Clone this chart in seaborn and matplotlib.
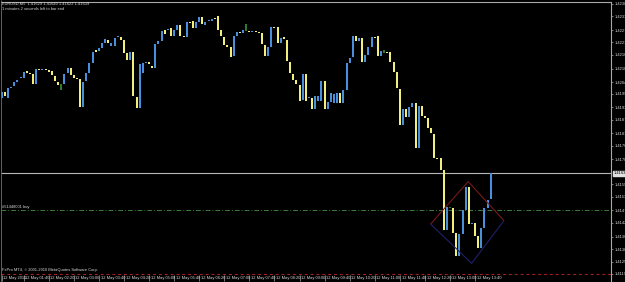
import matplotlib
matplotlib.use("Agg")
import matplotlib.pyplot as plt
import matplotlib.transforms as mtransforms
from matplotlib.lines import Line2D
import pandas as pd
import seaborn as sns

# ---------------- data (EURUSD M5, 12 May 2011) ----------------
opens = [1.41970, 1.41997, 1.41970, 1.42014, 1.42023, 1.42041, 1.42059, 1.42059, 1.42089, 1.42081,
         1.42076, 1.42032, 1.42098, 1.42094, 1.42098, 1.42094, 1.42089, 1.42067, 1.42041, 1.42019,
         1.42032, 1.42081, 1.42103, 1.42072, 1.42059, 1.42054, 1.41931, 1.42045, 1.42081, 1.42125,
         1.42182, 1.42177, 1.42191, 1.42213, 1.42226, 1.42200, 1.42200, 1.42239, 1.42239, 1.42226,
         1.42169, 1.42138, 1.42173, 1.41975, 1.41926, 1.42081, 1.42125, 1.42129, 1.42111, 1.42103,
         1.42208, 1.42222, 1.42270, 1.42270, 1.42279, 1.42244, 1.42270, 1.42292, 1.42244, 1.42239,
         1.42305, 1.42310, 1.42279, 1.42305, 1.42327, 1.42292, 1.42310, 1.42310, 1.42323, 1.42332,
         1.42270, 1.42239, 1.42204, 1.42195, 1.42155, 1.42244, 1.42261, 1.42257, 1.42270, 1.42266,
         1.42261, 1.42266, 1.42261, 1.42257, 1.42204, 1.42155, 1.42195, 1.42283, 1.42283, 1.42213,
         1.42239, 1.42226, 1.42129, 1.42076, 1.42050, 1.42028, 1.41962, 1.42076, 1.41970, 1.41970,
         1.41922, 1.41957, 1.41957, 1.42045, 1.41922, 1.41953, 1.41948, 1.41948, 1.41992, 1.41948,
         1.42006, 1.42125, 1.42151, 1.42244, 1.42222, 1.42235, 1.42129, 1.42160, 1.42195, 1.42239,
         1.42244, 1.42155, 1.42173, 1.42173, 1.42173, 1.42129, 1.42085, 1.42010, 1.41851, 1.41922,
         1.41887, 1.41931, 1.41948, 1.41750, 1.41935, 1.41891, 1.41882, 1.41838, 1.41812, 1.41706,
         1.41706, 1.41653, 1.41389, 1.41488, 1.41486, 1.41376, 1.41274, 1.41371, 1.41477, 1.41578,
         1.41415, 1.41420, 1.41362, 1.41310, 1.41398, 1.41486, 1.41525]
closes = [1.41997, 1.41979, 1.42014, 1.42019, 1.42041, 1.42050, 1.42063, 1.42085, 1.42081, 1.42076,
          1.42032, 1.42098, 1.42094, 1.42098, 1.42094, 1.42085, 1.42072, 1.42045, 1.42028, 1.42019,
          1.42076, 1.42103, 1.42072, 1.42059, 1.42054, 1.41931, 1.42041, 1.42081, 1.42125, 1.42173,
          1.42173, 1.42191, 1.42213, 1.42230, 1.42213, 1.42213, 1.42235, 1.42244, 1.42226, 1.42169,
          1.42138, 1.42173, 1.41979, 1.41926, 1.42120, 1.42125, 1.42129, 1.42120, 1.42103, 1.42208,
          1.42222, 1.42266, 1.42252, 1.42274, 1.42244, 1.42270, 1.42292, 1.42244, 1.42239, 1.42305,
          1.42301, 1.42279, 1.42305, 1.42327, 1.42296, 1.42305, 1.42314, 1.42318, 1.42318, 1.42270,
          1.42244, 1.42204, 1.42195, 1.42151, 1.42244, 1.42261, 1.42257, 1.42270, 1.42270, 1.42261,
          1.42266, 1.42261, 1.42257, 1.42208, 1.42155, 1.42195, 1.42283, 1.42279, 1.42213, 1.42235,
          1.42230, 1.42133, 1.42081, 1.42050, 1.42032, 1.41957, 1.42076, 1.41957, 1.41975, 1.41922,
          1.41979, 1.41979, 1.42045, 1.41922, 1.41953, 1.41992, 1.41988, 1.41992, 1.41948, 1.42006,
          1.42125, 1.42147, 1.42244, 1.42222, 1.42235, 1.42129, 1.42160, 1.42195, 1.42239, 1.42235,
          1.42155, 1.42177, 1.42173, 1.42169, 1.42129, 1.42085, 1.42014, 1.41851, 1.41922, 1.41887,
          1.41931, 1.41948, 1.41750, 1.41935, 1.41891, 1.41882, 1.41838, 1.41816, 1.41706, 1.41702,
          1.41653, 1.41389, 1.41490, 1.41488, 1.41376, 1.41274, 1.41371, 1.41477, 1.41578, 1.41415,
          1.41420, 1.41362, 1.41310, 1.41398, 1.41486, 1.41521, 1.41639]
# wick extents (high, low) of the doji bars, drawn in green
doji_wicks = {19: (1.42032, 1.42006), 78: (1.42296, 1.42266),
              122: (1.42182, 1.42169), 143: (1.41490, 1.41484)}

price_ticks = [1.42385, 1.42330, 1.42270, 1.42215, 1.42160, 1.42100, 1.42040, 1.41990, 1.41930,
               1.41875, 1.41815, 1.41760, 1.41700, 1.41590, 1.41535, 1.41475, 1.41420, 1.41360,
               1.41305, 1.41250, 1.41195]
time_tick_bars = [0, 7, 15, 23, 31, 39, 47, 55, 63, 71, 79, 87, 95, 103, 111, 119, 127, 135, 143, 151]
time_labels = ["12 May 2011", "12 May 01:40", "12 May 02:20", "12 May 03:00", "12 May 03:40",
               "12 May 04:20", "12 May 05:00", "12 May 05:40", "12 May 06:20", "12 May 07:00",
               "12 May 07:40", "12 May 08:20", "12 May 09:00", "12 May 09:40", "12 May 10:20",
               "12 May 11:00", "12 May 11:40", "12 May 12:20", "12 May 13:00", "12 May 13:40"]

bid_price = 1.41639
order_price = 1.41477
stop_price = 1.41195
diamond_bar = [136.8, 148.8, 160.2, 149.9]
diamond_price = [1.41415, 1.41602, 1.41430, 1.41242]

header1 = "EURUSD,M5  1.41629 1.41640 1.41622 1.41639"
header2 = "1 minutes 2 seconds left to bar end"
order_label = "#51448001 buy"
copyright_text = "FxPro MT4, \u00a9 2001-2010 MetaQuotes Software Corp."

# ---------------- style ----------------
sns.set_theme(style="dark", rc={"axes.facecolor": "black", "figure.facecolor": "black",
                                "savefig.facecolor": "black", "lines.solid_capstyle": "butt"})
plt.rcParams["font.family"] = ["Liberation Sans", "DejaVu Sans"]
FS = 2.9
TXT = "#d8d8d8"
GRAY = "#a8a8a8"

W, H = 625, 282
fig = plt.figure(figsize=(W / 100, H / 100), dpi=100)
ax_left, ax_right, ax_top, ax_bottom = 1, 611, 2, 275
ax = fig.add_axes([ax_left / W, (H - ax_bottom) / H, (ax_right - ax_left) / W, (ax_bottom - ax_top) / H])
ax.set_facecolor("black")

# candles as vertical segments
rows = []
for i, (o, c) in enumerate(zip(opens, closes)):
    if i in doji_wicks:
        hi, lo = doji_wicks[i]
        kind = "doji"
    else:
        hi, lo = max(o, c), min(o, c)
        kind = "up" if c > o else "down"
    rows.append((i, hi, kind))
    rows.append((i, lo, kind))
df = pd.DataFrame(rows, columns=["bar", "price", "kind"])
palette = {"up": "#4a8fdc", "down": "#f2ee7c", "doji": "#2f7a2f"}
sns.lineplot(data=df, x="bar", y="price", hue="kind", units="bar", estimator=None,
             palette=palette, linewidth=1.45, legend=False, sort=False, ax=ax)

# horizontal lines
ax.axhline(bid_price, color="#b8b8b8", lw=0.8, zorder=1)
ax.axhline(order_price, color="#3d7a3d", lw=0.7, ls=(0, (5, 2, 1, 2)), zorder=1)
ax.axhline(stop_price, color="#b02020", lw=0.7, ls=(0, (3, 3)), zorder=1)

# diamond
ax.plot(diamond_bar[:3], diamond_price[:3], color="#7d1a1a", lw=0.75)
ax.plot(diamond_bar[2:] + diamond_bar[:1], diamond_price[2:] + diamond_price[:1], color="#22226e", lw=0.75)

# limits (bar index <-> pixel: x = 1.7 + 3.135 * i)
px_per_bar = 3.135
ax.set_xlim((ax_left - 1.7) / px_per_bar, (ax_right - 1.7) / px_per_bar)
pts_per_px = 0.00004406
ax.set_ylim(1.42270 - (ax_bottom - 30) * pts_per_px, 1.42270 + (30 - ax_top) * pts_per_px)

# axes / spines
for s in ["left", "bottom"]:
    ax.spines[s].set_visible(False)
ax.spines["top"].set_color(GRAY)
ax.spines["top"].set_linewidth(0.8)
ax.spines["right"].set_color(GRAY)
ax.spines["right"].set_linewidth(0.8)
ax.set_xlabel("")
ax.set_ylabel("")
ax.grid(False)

ax.yaxis.tick_right()
ax.set_yticks(price_ticks)
ax.set_yticklabels([f"{p:.5f}" for p in price_ticks])
ax.tick_params(axis="y", which="both", right=True, left=False, length=1.6, width=0.5,
               color=GRAY, pad=0.8, labelsize=FS, labelcolor=TXT)

ax.set_xticks(time_tick_bars)
ax.set_xticklabels([])
ax.tick_params(axis="x", bottom=True, length=4.5, width=0.5, color=GRAY, direction="out", pad=0)
for b, lab in zip(time_tick_bars, time_labels):
    ax.annotate(lab, xy=(b, 0), xycoords=("data", "axes fraction"), xytext=(1.2, -0.6),
                textcoords="offset points", ha="left", va="top", fontsize=FS, color=TXT,
                annotation_clip=False)

# current price box
ax.annotate(f"{bid_price:.5f}", xy=(1, bid_price), xycoords=("axes fraction", "data"),
            xytext=(1.6, 0), textcoords="offset points", ha="left", va="center",
            fontsize=FS, color="black", annotation_clip=False,
            bbox=dict(boxstyle="square,pad=0.15", fc="#e0e0e0", ec="#e0e0e0"))

# texts
ax.annotate(order_label, xy=(0, order_price), xycoords=("axes fraction", "data"),
            xytext=(1, 0.4), textcoords="offset points", ha="left", va="bottom",
            fontsize=FS, color=TXT)
fig.text(2 / W, 1 - 4 / H, header1, ha="left", va="center", fontsize=FS, color=TXT)
fig.text(2 / W, 1 - 8.5 / H, header2, ha="left", va="center", fontsize=FS, color=TXT)
fig.text(2 / W, 1 - 270.5 / H, copyright_text, ha="left", va="center", fontsize=FS, color=TXT)

# window frame lines
fig.add_artist(Line2D([ax_right / W, ax_right / W], [0, (H - ax_bottom) / H],
                      transform=fig.transFigure, color=GRAY, lw=0.8))
fig.add_artist(Line2D([0.5 / W, 0.5 / W], [0, 1], transform=fig.transFigure, color="#707070", lw=0.6))

fig.savefig("out.png", dpi=100, facecolor="black")
